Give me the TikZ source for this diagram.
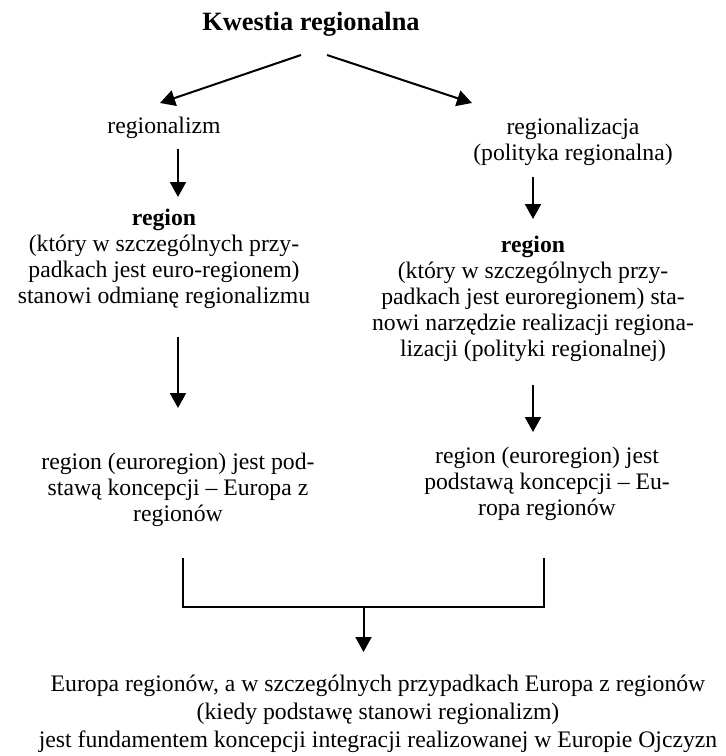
\documentclass[tikz,border=0pt]{standalone}
\usepackage{fontspec}
\setmainfont{Liberation Serif}
\usetikzlibrary{arrows.meta}

\tikzstyle{txt} = [inner sep=0pt,align=center,font=\fontsize{11.85}{13}\selectfont]
\tikzstyle{arr} = [line width=1pt,-{Triangle[length=7.5pt,width=8pt]}]

\begin{document}
\begin{tikzpicture}[x=0.5pt,y=-0.5pt]
	\useasboundingbox (0,0) rectangle (725,756);

	\node[txt,font=\fontsize{13.2}{15}\selectfont\bfseries] (kwestia) at (311,24) {Kwestia regionalna};
	\node[txt] (regionalizm) at (164,128) {regionalizm};
	\node[txt] (regionalizacja) at (573,141.5) {regionalizacja\\(polityka regionalna)};
	\node[txt] (regL) at (164,259) {\textbf{region}\\(który w szczególnych przy-\\padkach jest euro-regionem)\\stanowi odmianę regionalizmu};
	\node[txt] (regR) at (533,299) {\textbf{region}\\(który w szczególnych przy-\\padkach jest euroregionem) sta-\\nowi narzędzie realizacji regiona-\\lizacji (polityki regionalnej)};
	\node[txt] (podL) at (178,490) {region (euroregion) jest pod-\\stawą koncepcji -- Europa z\\regionów};
	\node[txt] (podR) at (547,484) {region (euroregion) jest\\podstawą koncepcji -- Eu-\\ropa regionów};
	\node[txt,font=\fontsize{11.85}{14}\selectfont] (europa) at (378,714) {Europa regionów, a w szczególnych przypadkach Europa z regionów\\(kiedy podstawę stanowi regionalizm)\\jest fundamentem koncepcji integracji realizowanej w Europie Ojczyzn};

	\coordinate (k1) at (301,55);
	\coordinate (k2) at (327,55);
	\coordinate (l1) at (160,103);
	\coordinate (r1) at (472,103);
	\coordinate (l2s) at (178,149);
	\coordinate (l2e) at (178,197);
	\coordinate (r2s) at (533,177);
	\coordinate (r2e) at (533,219);
	\coordinate (l3s) at (178,337);
	\coordinate (l3e) at (178,408);
	\coordinate (r3s) at (533,385);
	\coordinate (r3e) at (533,432);
	\coordinate (bl) at (183,558);
	\coordinate (br) at (544,558);
	\coordinate (bm) at (363.5,607);
	\coordinate (be) at (363.5,652);

	\draw[arr] (k1) -- (l1);
	\draw[arr] (k2) -- (r1);
	\draw[arr] (l2s) -- (l2e);
	\draw[arr] (r2s) -- (r2e);
	\draw[arr] (l3s) -- (l3e);
	\draw[arr] (r3s) -- (r3e);

	\draw[line width=1pt] (bl) -- (bl |- bm) -- (br |- bm) -- (br);
	\draw[arr] (bm) -- (be);
\end{tikzpicture}
\end{document}
